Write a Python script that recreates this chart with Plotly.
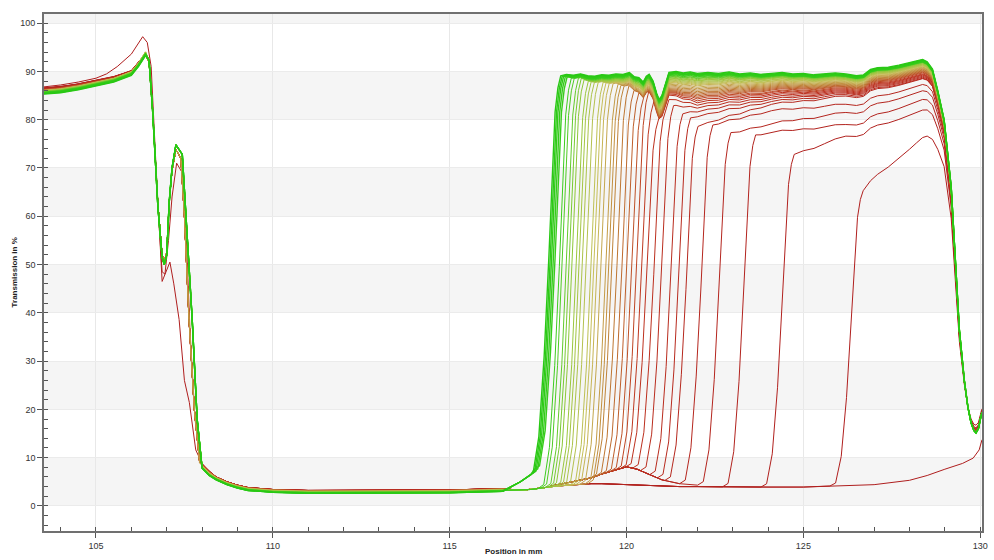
import numpy as np
import plotly.graph_objects as go

nan = float("nan")

# ---------------- shared profiles ----------------
# left part (before the floor), several variants
LEFT_A_X = [103.53, 104.0, 104.5, 105.0, 105.5, 106.0, 106.2, 106.4, 106.5, 106.6, 106.75, 106.87,
            106.93, 107.0, 107.07, 107.15, 107.26, 107.44, 107.55, 107.72, 107.86, 108.0, 108.2]
LEFT_A_Y = [85.3, 85.6, 86.2, 87.0, 87.8, 89.2, 91.0, 93.3, 92.3, 82.0, 62.0, 51.5,
            50.0, 52.0, 62.9, 70.0, 74.8, 72.8, 60.0, 38.6, 18.0, 7.8, 6.3]
LEFT_B_X = [103.53, 104.0, 104.5, 105.0, 105.5, 106.0, 106.2, 106.4, 106.5, 106.6, 106.75, 106.87,
            106.93, 107.0, 107.07, 107.15, 107.26, 107.40, 107.50, 107.63, 107.78, 107.93, 108.2]
LEFT_B_Y = [86.0, 86.3, 86.9, 87.7, 88.4, 89.6, 91.3, 93.2, 92.0, 82.0, 62.5, 52.0,
            50.5, 52.5, 63.0, 69.5, 73.8, 72.0, 60.0, 38.6, 20.0, 8.5, 6.5]
LEFT_C_X = [103.53, 104.0, 104.5, 105.0, 105.3, 105.6, 106.0, 106.32, 106.45, 106.56, 106.7, 106.87,
            107.09, 107.2, 107.35, 107.5, 107.64, 107.82, 107.99, 108.2]
LEFT_C_Y = [86.8, 87.2, 87.8, 88.6, 89.5, 91.0, 93.6, 97.2, 96.0, 91.0, 70.0, 46.5,
            50.5, 46.0, 38.6, 26.0, 21.4, 11.6, 8.3, 6.6]
LEFT_D_X = [103.53, 104.0, 104.5, 105.0, 105.5, 106.0, 106.2, 106.4, 106.5, 106.6, 106.75, 106.87,
            106.95, 107.05, 107.15, 107.28, 107.44, 107.55, 107.66, 107.8, 107.95, 108.2]
LEFT_D_Y = [86.6, 87.0, 87.3, 88.0, 88.8, 90.2, 91.8, 93.6, 92.5, 82.0, 62.0, 48.5,
            48.0, 55.0, 64.0, 71.0, 69.0, 56.0, 36.0, 18.0, 8.3, 6.6]

# low-transmission floor
FLOOR_X = [108.4, 108.7, 109.0, 109.3, 110.0, 111.0, 112.0, 113.0, 114.0, 115.0, 116.0, 116.5,
           117.0, 117.3, 117.5, 117.7, 118.0, 118.5, 119.0, 119.3, 119.6, 120.0, 120.3, 120.6,
           121.0, 121.5, 122.0, 123.0, 124.0, 125.0, 126.0, 127.0, 128.0, 128.5, 129.0, 129.5,
           129.8, 129.97, 130.05]
FLOOR_BASE = [5.4, 4.4, 3.7, 3.2, 2.8, 2.6, 2.6, 2.6, 2.6, 2.7, 2.9, 3.0,
              3.2, 3.4, 3.6, 3.8, 4.1, 4.4, 4.6, 4.6, 4.5, 4.4, 4.3, 4.2,
              4.1, 4.0, 4.0, 3.9, 3.9, 3.9, 4.2, 4.4, 5.3, 6.3, 7.6, 8.8,
              9.9, 11.6, 13.7]
FLOOR_HUMP = [5.4, 4.4, 3.7, 3.2, 2.8, 2.6, 2.6, 2.6, 2.6, 2.7, 2.9, 3.0,
              3.2, 3.4, 3.6, 3.8, 4.3, 5.0, 5.8, 6.6, 7.3, 8.1, 7.6, 6.6,
              5.4, 4.6, 4.3, 4.1, 4.0, 4.0, 4.2, 4.4, 5.3, 6.3, 7.6, 8.8,
              9.9, 11.6, 13.7]
FLOOR_GREEN = [5.4, 4.4, 3.7, 3.2, 2.8, 2.6, 2.6, 2.6, 2.6, 2.7, 2.9, 3.0,
               5.0, 6.5, 9.0, 14.0, 4.1, 4.4, 4.6, 4.6, 4.5, 4.4, 4.3, 4.2,
               4.1, 4.0, 4.0, 3.9, 3.9, 3.9, 4.2, 4.4, 5.3, 6.3, 7.6, 8.8,
               9.9, 11.6, 13.7]

# upper plateau (greenest curve) and the right-hand drop
TOP_X = [118.1, 118.3, 118.5, 118.7, 118.9, 119.1, 119.3, 119.5, 119.7, 119.9,
         120.08, 120.22, 120.35, 120.47, 120.56, 120.64, 120.75, 120.85, 120.92, 121.0,
         121.1, 121.2, 121.4, 121.6, 121.8, 122.0, 122.3, 122.6, 122.9, 123.2,
         123.5, 123.8, 124.1, 124.4, 124.7, 125.0, 125.3, 125.6, 125.9, 126.2,
         126.5, 126.7, 126.9, 127.1, 127.4, 127.7, 128.0, 128.2, 128.37,
         128.5, 128.65, 128.8, 128.98, 129.18, 129.3, 129.41, 129.55, 129.65, 129.74,
         129.82, 129.88, 129.95, 130.02, 130.05]
TOP_Y = [89.0, 89.4, 89.2, 89.5, 89.1, 89.0, 89.3, 89.2, 89.5, 89.4,
         89.8, 88.9, 88.7, 87.8, 89.0, 89.4, 88.0, 85.5, 84.2, 85.0,
         87.5, 89.8, 90.0, 89.7, 89.9, 89.6, 89.8, 89.6, 89.9, 89.5,
         89.7, 89.4, 89.6, 89.8, 89.5, 89.6, 89.3, 89.5, 89.7, 89.5,
         89.1, 89.3, 90.4, 90.8, 90.9, 91.3, 91.8, 92.2, 92.5,
         92.0, 90.5, 86.0, 80.0, 66.0, 50.0, 36.5, 26.0, 20.5, 17.2,
         15.6, 15.1, 16.0, 18.5, 19.3]
TOP_TAPER = [1.0] * 49 + [0.95, 0.9, 0.75, 0.6, 0.4, 0.25, 0.15, 0.05, 0.0, -0.05,
                          -0.08, -0.1, -0.08, -0.05, -0.05]

# rise shape of a step (offset from step middle, fraction of the rise)
STEP_DX = [-0.6, -0.44, -0.28, -0.13, 0.0, 0.1, 0.18, 0.26, 0.34]
STEP_FRAC = [0.0, 0.01, 0.1, 0.3, 0.54, 0.76, 0.91, 0.97, 1.0]

# ---------------- per-curve values (greenest first, reddest last) ----------------
STEP_MID = [117.80, 117.84, 117.88, 117.93, 117.98,
            118.10, 118.18, 118.30, 118.38, 118.46, 118.58, 118.66, 118.75, 118.86, 119.00,
            119.08, 119.17, 119.28, 119.42, 119.50, 119.59, 119.73, 119.87, 120.01, 120.15,
            120.29, 120.43, 120.57, 120.77, 120.99, 121.25, 121.47,
            121.68, 122.10, 122.61, 123.31, 124.40, 126.35, nan]
ANCHOR_X = [122.0, 124.0, 126.2, 128.37]
D_TURN = [0, 0.15, 0.3, 0.4, 0.5,
          0.6, 0.7, 0.8, 0.9, 1.0, 1.1, 1.2, 1.3, 1.4, 1.5, 1.6, 1.7, 1.9, 2.1, 2.3, 2.5, 2.7,
          2.9, 3.1, 3.3, 3.5, 3.8, 4.2, 5.5, 7.0, 8.5, 9.5,
          11.0, 10.8, 12.5, 12.7, 16.7, 24.0, nan]
D_122 = [0, 0.15, 0.3, 0.4, 0.5,
         0.7, 0.8, 1.0, 1.1, 1.3, 1.5, 1.6, 1.8, 2.0, 2.2, 2.4, 2.6, 2.9, 3.2, 3.5, 3.8, 4.1,
         4.4, 4.7, 5.0, 5.3, 5.7, 6.1, 6.6, 7.2, 8.0, 9.0,
         nan, nan, nan, nan, nan, nan, nan]
D_124 = [0, 0.15, 0.3, 0.4, 0.5,
         0.5, 0.6, 0.7, 0.8, 0.9, 1.0, 1.1, 1.3, 1.4, 1.6, 1.7, 1.9, 2.1, 2.3, 2.5, 2.7, 2.9,
         3.1, 3.3, 3.5, 3.8, 4.0, 4.3, 4.6, 5.0, 5.4, 5.9,
         6.5, 7.8, 10.5, 12.3, nan, nan, nan]
D_126 = [0, 0.15, 0.3, 0.4, 0.5,
         0.4, 0.5, 0.6, 0.7, 0.8, 0.9, 1.0, 1.1, 1.2, 1.3, 1.45, 1.6, 1.75, 1.9, 2.05, 2.2, 2.35,
         2.5, 2.65, 2.8, 3.0, 3.2, 3.4, 3.6, 3.8, 4.0, 4.3,
         4.6, 6.3, 8.0, 10.5, 12.9, nan, nan]
D_128 = [0, 0.15, 0.3, 0.4, 0.5,
         0.35, 0.45, 0.55, 0.65, 0.75, 0.85, 0.95, 1.05, 1.15, 1.25, 1.35, 1.5, 1.6, 1.75, 1.9,
         2.05, 2.2, 2.35, 2.5, 2.65, 2.8, 3.0, 3.15, 3.3, 3.5, 3.7, 3.9,
         4.0, 5.2, 6.5, 8.3, 10.5, 16.2, nan]
LEFT_KIND = [0] * 18 + [1] * 19 + [3, 2]
LEFT_DY = [0.0, 0.1, 0.2, 0.25, 0.3,
           0.35, 0.4, 0.45, 0.5, 0.55, 0.6, 0.6, 0.65, 0.65, 0.7, 0.7, 0.75, 0.75,
           0.0, 0.05, 0.1, 0.1, 0.15, 0.2, 0.2, 0.25, 0.25, 0.3, 0.3, 0.35, 0.35, 0.4, 0.4,
           0.45, 0.5, 0.5, 0.55,
           0.0, 0.0]
FLOOR_DY = [0.0, 0.0, 0.05, 0.05, 0.1,
            0.15, 0.17, 0.19, 0.21, 0.23, 0.25, 0.27, 0.29, 0.31, 0.33, 0.35, 0.37, 0.39, 0.41,
            0.43, 0.45, 0.47, 0.49, 0.5, 0.51, 0.52, 0.53, 0.54, 0.55, 0.56, 0.57, 0.58, 0.59,
            0.6, 0.6, 0.6, 0.6,
            0.6, 0.6]
FLOOR_KIND = [2] * 5 + [0] * 15 + [1] * 15 + [0] * 4

# colour ramp (position along the series, r, g, b)
COLOR_STOPS = [(0.0, 40, 200, 20), (0.13, 60, 205, 30), (0.25, 150, 200, 60), (0.4, 200, 190, 90),
               (0.55, 190, 120, 50), (0.7, 190, 50, 30), (1.0, 175, 30, 30)]

# axis settings
X_RANGE = [103.53, 130.05]
Y_RANGE = [-5.2, 101.9]
X_TICKS = [105, 110, 115, 120, 125, 130]
Y_TICKS = [0, 10, 20, 30, 40, 50, 60, 70, 80, 90, 100]

LEFTS = [(LEFT_A_X, LEFT_A_Y), (LEFT_B_X, LEFT_B_Y), (LEFT_C_X, LEFT_C_Y), (LEFT_D_X, LEFT_D_Y)]
FLOORS = [FLOOR_BASE, FLOOR_HUMP, FLOOR_GREEN]
N = len(STEP_MID)


def curve(i):
    lx, ly = LEFTS[LEFT_KIND[i]]
    xs, ys = [], []
    for x, y in zip(lx, ly):
        xs.append(x)
        if x < 106.45:
            ys.append(y + LEFT_DY[i])
        elif x > 107.9:
            ys.append(y + FLOOR_DY[i])
        else:
            ys.append(y)
    floor = [fy + (FLOOR_DY[i] if fx < 117.0 else 0.0) for fx, fy in zip(FLOOR_X, FLOORS[FLOOR_KIND[i]])]
    s = STEP_MID[i]
    if np.isnan(s):
        xs += FLOOR_X
        ys += floor
        return xs, ys
    start = s + STEP_DX[0]
    for fx, fy in zip(FLOOR_X, floor):
        if fx < start:
            xs.append(fx)
            ys.append(fy)
    base = float(np.interp(start, FLOOR_X, floor))
    turn = s + STEP_DX[-1]
    ax, ad = [turn], [D_TURN[i]]
    for a, d in zip(ANCHOR_X, [D_122[i], D_124[i], D_126[i], D_128[i]]):
        if a > turn and not np.isnan(d):
            ax.append(a)
            ad.append(d)
    top = float(np.interp(turn, TOP_X, TOP_Y)) - D_TURN[i]
    for dx, fr in zip(STEP_DX, STEP_FRAC):
        xs.append(s + dx)
        ys.append(base + fr * (top - base))
    for tx, ty, tp in zip(TOP_X, TOP_Y, TOP_TAPER):
        if tx > turn + 0.02:
            xs.append(tx)
            ys.append(ty - float(np.interp(tx, ax, ad)) * tp)
    return xs, ys


def color(i):
    t = i / (N - 1)
    ts = [c[0] for c in COLOR_STOPS]
    r = np.interp(t, ts, [c[1] for c in COLOR_STOPS])
    g = np.interp(t, ts, [c[2] for c in COLOR_STOPS])
    b = np.interp(t, ts, [c[3] for c in COLOR_STOPS])
    return f"rgb({int(r)},{int(g)},{int(b)})"


fig = go.Figure()
for i in range(N - 1, -1, -1):
    xs, ys = curve(i)
    fig.add_trace(go.Scatter(x=xs, y=ys, mode="lines", hoverinfo="skip",
                             line=dict(color=color(i), width=1.4 if i < 5 else 1.0)))

# alternating light bands
for k in range(0, len(Y_TICKS), 2):
    y0 = Y_TICKS[k]
    fig.add_shape(type="rect", xref="paper", yref="y", x0=0, x1=1, y0=y0,
                  y1=min(y0 + 10, Y_RANGE[1]), fillcolor="#f5f5f5", line_width=0, layer="below")

tick_font = dict(family="Liberation Sans, Arial, sans-serif", size=9, color="#333333")
fig.update_xaxes(range=X_RANGE, tickvals=X_TICKS, ticks="outside", ticklen=5, tickcolor="#555555",
                 showline=True, linecolor="#707070", linewidth=1.6, mirror=True,
                 showgrid=True, gridcolor="#e8e8e8", gridwidth=1, zeroline=False,
                 tickfont=tick_font,
                 minor=dict(dtick=1, ticks="inside", ticklen=4, tickcolor="#555555", showgrid=False))
fig.update_yaxes(range=Y_RANGE, tickvals=Y_TICKS, ticks="outside", ticklen=5, tickcolor="#555555",
                 showline=True, linecolor="#707070", linewidth=1.6, mirror=True,
                 showgrid=True, gridcolor="#ebebeb", gridwidth=1, zeroline=False,
                 tickfont=tick_font,
                 minor=dict(dtick=2, ticks="inside", ticklen=4, tickcolor="#555555", showgrid=False))

title_font = dict(family="Liberation Sans, Arial, sans-serif", size=8, color="#222222")
fig.add_annotation(text="<b>Position in mm</b>", xref="paper", yref="paper", x=0.5, y=-0.039,
                   xanchor="center", yanchor="middle", showarrow=False, font=title_font)
fig.add_annotation(text="<b>Transmission in %</b>", xref="paper", yref="paper", x=-0.031, y=0.5,
                   xanchor="center", yanchor="middle", textangle=-90, showarrow=False, font=title_font)

fig.update_layout(width=994, height=560, margin=dict(l=44, r=6, t=14, b=29),
                  plot_bgcolor="white", paper_bgcolor="white", showlegend=False)

fig.write_html("out.html")
